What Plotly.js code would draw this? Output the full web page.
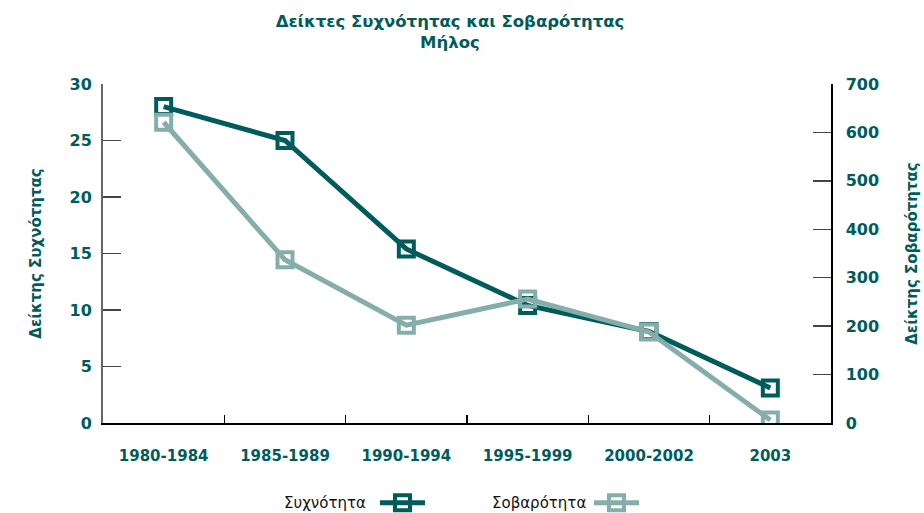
<!DOCTYPE html>
<html>
<head>
<meta charset="utf-8">
<script src="https://cdn.plot.ly/plotly-3.0.1.min.js"></script>
<style>html,body{margin:0;padding:0;background:#fff;}#chart{width:924px;height:513px;}</style>
</head>
<body>
<div id="chart"></div>
<script>
const categories = ["1980-1984", "1985-1989", "1990-1994", "1995-1999", "2000-2002", "2003"];
const frequency = [28.0, 25.0, 15.4, 10.4, 8.1, 3.1];
const severity = [621, 337, 202, 256, 188, 6];
const seriesNames = ["Συχνότητα", "Σοβαρότητα"];

const dark = "#005c5c";
const light = "#85adab";
const font = "DejaVu Sans, sans-serif";

const traces = [
  {
    x: categories, y: frequency, yaxis: "y", type: "scatter", mode: "lines+markers",
    name: " ", legendgroup: "a",
    line: {color: dark, width: 5},
    marker: {symbol: "square-open", size: 15, color: dark, line: {width: 4, color: dark}}
  },
  {
    x: categories, y: severity, yaxis: "y2", type: "scatter", mode: "lines+markers",
    name: " ", legendgroup: "b",
    line: {color: light, width: 5},
    marker: {symbol: "square-open", size: 15, color: light, line: {width: 4, color: light}}
  }
];

const tickFont = {family: font, size: 16, color: dark, weight: "bold"};
const xTickFont = {family: font, size: 15, color: dark, weight: "bold"};

const layout = {
  width: 924, height: 513,
  margin: {l: 103, r: 93, t: 84, b: 90, autoexpand: false},
  paper_bgcolor: "#ffffff", plot_bgcolor: "#ffffff",
  showlegend: true,
  title: {
    text: "<b>Δείκτες Συχνότητας και Σοβαρότητας<br>Μήλος</b>",
    font: {family: font, size: 16.5, color: dark},
    x: 0.487, xref: "container", xanchor: "center",
    y: 0.948, yref: "container", yanchor: "top"
  },
  xaxis: {
    type: "category", range: [-0.5, 5.5],
    showgrid: false, zeroline: false,
    showline: true, linecolor: "#000", linewidth: 2,
    ticks: "inside", tickson: "boundaries", ticklen: 8, tickcolor: "#000", tickwidth: 1.5,
    tickfont: xTickFont, ticklabelstandoff: 18
  },
  yaxis: {
    range: [0, 30], dtick: 5, tick0: 0,
    showgrid: false, zeroline: false,
    showline: true, linecolor: "#666", linewidth: 2,
    ticks: "inside", ticklen: 18, tickcolor: "#444", tickwidth: 1.5,
    tickfont: tickFont, ticklabelstandoff: 6,
    title: {text: "<b>Δείκτης Συχνότητας</b>", font: {family: font, size: 15, color: dark}, standoff: 24}
  },
  yaxis2: {
    overlaying: "y", side: "right",
    range: [0, 700], dtick: 100, tick0: 0,
    showgrid: false, zeroline: false,
    showline: true, linecolor: "#000", linewidth: 1.5,
    ticks: "inside", ticklen: 18, tickcolor: "#444", tickwidth: 1.5,
    tickfont: tickFont, ticklabelstandoff: 10,
    title: {text: "<b>Δείκτης Σοβαρότητας</b>", font: {family: font, size: 15, color: dark}, standoff: 28}
  },
  legend: {
    orientation: "h",
    x: (375 - 103) / 728, xanchor: "left",
    y: -80 / 339, yanchor: "middle",
    entrywidth: 154, entrywidthmode: "pixels",
    itemwidth: 45,
    font: {family: font, size: 15, color: "#111"},
    bgcolor: "rgba(0,0,0,0)"
  },
  annotations: [
    {text: seriesNames[0], xref: "paper", yref: "paper", x: (368 - 103) / 728, y: -80 / 339,
     xanchor: "right", yanchor: "middle", showarrow: false, font: {family: font, size: 15, color: "#111"}},
    {text: seriesNames[1], xref: "paper", yref: "paper", x: (588 - 103) / 728, y: -80 / 339,
     xanchor: "right", yanchor: "middle", showarrow: false, font: {family: font, size: 15, color: "#111"}}
  ]
};

Plotly.newPlot("chart", traces, layout, {displayModeBar: false, staticPlot: true});
</script>
</body>
</html>
